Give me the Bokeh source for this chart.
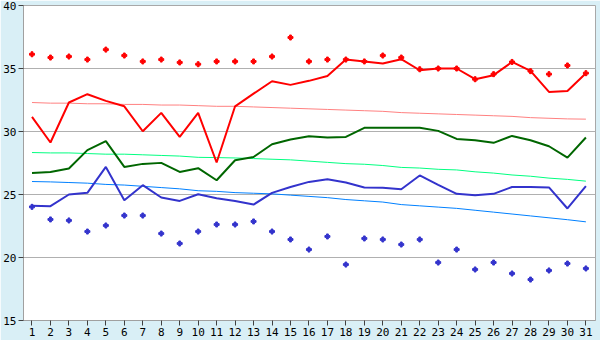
from bokeh.plotting import figure
from bokeh.models import Range1d, FixedTicker
from bokeh.embed import file_html
from bokeh.resources import INLINE

days = list(range(1, 32))
x_tick_labels = [str(d) for d in days]
y_ticks = [15, 20, 25, 30, 35, 40]

record_high = [36.13, 35.87, 35.95, 35.71, 36.5, 36.03, 35.56, 35.71, 35.48, 35.34,
               35.56, 35.56, 35.56, 35.95, 37.46, 35.56, 35.71, 35.71, 35.56, 36.03,
               35.87, 34.94, 35.0, 35.0, 34.15, 34.55, 35.52, 34.79, 34.55, 35.24, 34.63]
high = [31.16, 29.13, 32.3, 32.96, 32.43, 32.0, 30.02, 31.48, 29.57, 31.48,
        27.54, 32.0, 33.0, 33.99, 33.7, 34.02, 34.41, 35.71, 35.56, 35.4,
        35.74, 34.86, 35.0, 35.0, 34.15, 34.47, 35.52, 34.81, 33.14, 33.22, 34.63]
normal_high = [32.3, 32.25, 32.25, 32.2, 32.2, 32.15, 32.15, 32.1, 32.1, 32.05,
               32.0, 32.0, 31.95, 31.9, 31.85, 31.8, 31.75, 31.7, 31.65, 31.6,
               31.5, 31.45, 31.4, 31.35, 31.3, 31.25, 31.2, 31.1, 31.05, 31.0, 30.98]
mean = [26.71, 26.79, 27.06, 28.52, 29.23, 27.19, 27.43, 27.51, 26.79, 27.09,
        26.13, 27.72, 27.98, 28.99, 29.37, 29.63, 29.52, 29.57, 30.29, 30.29,
        30.29, 30.29, 30.05, 29.41, 29.31, 29.1, 29.65, 29.31, 28.83, 27.93, 29.52]
normal_mean = [28.33, 28.3, 28.3, 28.25, 28.2, 28.2, 28.15, 28.1, 28.05, 27.95,
               27.93, 27.9, 27.85, 27.8, 27.75, 27.65, 27.55, 27.45, 27.4, 27.3,
               27.15, 27.1, 27.0, 26.95, 26.8, 26.7, 26.55, 26.45, 26.3, 26.2, 26.06]
low = [24.1, 24.07, 25.0, 25.13, 27.19, 24.55, 25.74, 24.76, 24.49, 25.02,
       24.71, 24.49, 24.2, 25.13, 25.6, 26.0, 26.21, 25.95, 25.56, 25.53,
       25.42, 26.51, 25.77, 25.05, 24.95, 25.05, 25.6, 25.6, 25.56, 23.89, 25.66]
normal_low = [26.03, 26.0, 25.95, 25.9, 25.8, 25.75, 25.65, 25.55, 25.45, 25.3,
              25.25, 25.15, 25.1, 25.05, 24.95, 24.85, 24.75, 24.6, 24.5, 24.4,
              24.2, 24.1, 24.0, 23.9, 23.75, 23.6, 23.45, 23.3, 23.15, 23.0, 22.83]
record_low = [24.02, 23.02, 22.94, 22.06, 22.54, 23.33, 23.33, 21.9, 21.11, 22.06,
              22.62, 22.62, 22.86, 22.06, 21.43, 20.63, 21.67, 19.44, 21.51, 21.43,
              21.03, 21.43, 19.6, 20.63, 19.05, 19.6, 18.73, 18.25, 18.97, 19.52, 19.13]

bg = "#d9eff6"
p = figure(width=600, height=340, output_backend="svg", toolbar_location=None,
           x_range=Range1d(0.54, 31.52), y_range=Range1d(15, 40),
           min_border_left=20, min_border_right=5, min_border_top=5, min_border_bottom=20)
p.border_fill_color = bg
p.background_fill_color = "white"
p.outline_line_color = "#a8a8a8"
p.outline_line_width = 1

p.xgrid.grid_line_color = None
p.ygrid.grid_line_color = "#b0b0b0"
p.ygrid.ticker = FixedTicker(ticks=y_ticks)

font = "DejaVu Sans Mono"
for ax in (p.xaxis[0], p.yaxis[0]):
    ax.axis_line_color = "#a0a0a0"
    ax.major_tick_line_color = "#404040"
    ax.minor_tick_line_color = None
    ax.major_tick_in = 0
    ax.major_tick_out = 5
    ax.major_label_text_font = font
    ax.major_label_text_font_size = "11px"
    ax.major_label_text_color = "#000000"
    ax.major_label_standoff = 2
p.xaxis.ticker = FixedTicker(ticks=days)
p.xaxis.major_label_overrides = {d: s for d, s in zip(days, x_tick_labels)}
p.yaxis.ticker = FixedTicker(ticks=y_ticks)

p.line(days, normal_high, line_color="#ff8080", line_width=1)
p.line(days, normal_mean, line_color="#00ff80", line_width=1)
p.line(days, normal_low, line_color="#0080ff", line_width=1)

p.line(days, high, line_color="#ff0000", line_width=2)
p.line(days, mean, line_color="#006600", line_width=2)
p.line(days, low, line_color="#3333cc", line_width=2)

p.scatter(days, record_high, marker="plus", size=5, color="#ff0000")
p.scatter(days, record_low, marker="plus", size=5, color="#3333cc")

open("out.html", "w").write(file_html(p, INLINE))
